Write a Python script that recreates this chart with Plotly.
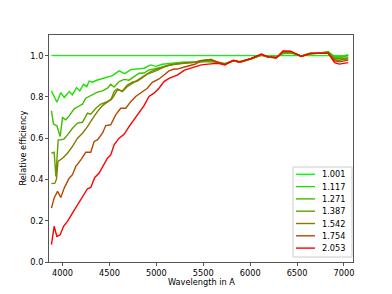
import plotly.graph_objects as go

airmass_labels = ["1.001", "1.117", "1.271", "1.387", "1.542", "1.754", "2.053"]
colors = ["#00ff00", "#1ce300", "#42bd00", "#5ea100", "#837c00", "#b74800", "#ff0000"]

# common red-end wavelengths
wl_red = [5300, 5410, 5480, 5580, 5660, 5730, 5820, 5890, 6010, 6120, 6190, 6280,
          6350, 6430, 6480, 6545, 6640, 6740, 6830, 6900, 6950, 7045]

wl_1001 = [3882, 7045]
eff_1001 = [1.0, 1.0]

wl_1117 = [3882, 3940, 3982, 4018, 4071, 4106, 4149, 4184, 4223, 4259, 4284, 4319, 4372,
           4426, 4479, 4532, 4603, 4663, 4727, 4798, 4869, 4940, 4993, 5064, 5153, 5223]
eff_1117 = [0.829, 0.774, 0.821, 0.797, 0.826, 0.810, 0.845, 0.829, 0.861, 0.850, 0.877,
            0.871, 0.882, 0.890, 0.895, 0.903, 0.926, 0.913, 0.932, 0.934, 0.939, 0.955,
            0.948, 0.958, 0.963, 0.968]
eff_1117_red = [0.970, 0.968, 0.972, 0.970, 0.968, 0.962, 0.975, 0.972, 0.985, 1.002, 0.995,
                0.993, 1.010, 1.012, 1.008, 0.998, 1.010, 1.012, 1.020, 0.995, 0.995, 1.005]

wl_1271 = [3882, 3904, 3940, 3975, 4000, 4035, 4071, 4124, 4177, 4213, 4248, 4284, 4330,
           4372, 4426, 4479, 4514, 4550, 4603, 4656, 4709, 4762, 4816, 4869, 4922, 4975,
           5046, 5117, 5188]
eff_1271 = [0.732, 0.668, 0.660, 0.608, 0.700, 0.689, 0.708, 0.742, 0.756, 0.765, 0.794,
            0.802, 0.813, 0.823, 0.829, 0.842, 0.861, 0.848, 0.874, 0.885, 0.881, 0.898,
            0.915, 0.916, 0.931, 0.935, 0.942, 0.952, 0.958]
eff_1271_red = [0.965, 0.967, 0.970, 0.972, 0.966, 0.960, 0.975, 0.970, 0.985, 1.003, 0.994,
                0.992, 1.012, 1.015, 1.008, 0.997, 1.010, 1.012, 1.018, 0.990, 0.990, 1.000]

wl_1387 = [3882, 3911, 3929, 3954, 3982, 4018, 4053, 4106, 4160, 4213, 4266, 4301, 4355,
           4408, 4461, 4514, 4550, 4585, 4638, 4691, 4745, 4798, 4869, 4940, 5011, 5082,
           5153, 5223]
eff_1387 = [0.527, 0.532, 0.415, 0.592, 0.592, 0.597, 0.616, 0.648, 0.673, 0.677, 0.721,
            0.716, 0.745, 0.765, 0.774, 0.785, 0.826, 0.839, 0.826, 0.850, 0.866, 0.882,
            0.903, 0.923, 0.935, 0.947, 0.955, 0.961]
eff_1387_red = [0.965, 0.968, 0.975, 0.978, 0.965, 0.958, 0.975, 0.968, 0.984, 1.004, 0.993,
                0.990, 1.015, 1.017, 1.010, 0.997, 1.010, 1.012, 1.015, 0.985, 0.985, 0.990]

wl_1542 = [3882, 3918, 3935, 3952, 4000, 4053, 4106, 4160, 4213, 4266, 4319, 4372, 4426,
           4479, 4532, 4585, 4638, 4691, 4745, 4798, 4851, 4904, 4975, 5046, 5117, 5188]
eff_1542 = [0.380, 0.382, 0.400, 0.487, 0.503, 0.527, 0.560, 0.600, 0.624, 0.656, 0.694,
            0.729, 0.758, 0.777, 0.794, 0.834, 0.829, 0.858, 0.871, 0.877, 0.894, 0.910,
            0.923, 0.939, 0.952, 0.958]
eff_1542_red = [0.963, 0.968, 0.977, 0.982, 0.966, 0.958, 0.976, 0.968, 0.985, 1.005, 0.993,
                0.990, 1.018, 1.018, 1.010, 0.997, 1.010, 1.012, 1.014, 0.980, 0.978, 0.985]

wl_1754 = [3882, 3911, 3947, 3982, 4018, 4071, 4106, 4142, 4195, 4248, 4301, 4337, 4372,
           4426, 4461, 4514, 4567, 4620, 4674, 4727, 4780, 4833, 4904, 4957, 5028, 5082,
           5135, 5188, 5223]
eff_1754 = [0.261, 0.310, 0.342, 0.313, 0.358, 0.406, 0.423, 0.463, 0.495, 0.532, 0.532,
            0.584, 0.592, 0.624, 0.661, 0.665, 0.713, 0.745, 0.745, 0.777, 0.802, 0.818,
            0.842, 0.871, 0.887, 0.906, 0.926, 0.935, 0.935]
eff_1754_red = [0.945, 0.958, 0.975, 0.982, 0.968, 0.957, 0.976, 0.968, 0.985, 1.006, 0.993,
                0.990, 1.020, 1.020, 1.010, 0.997, 1.010, 1.012, 1.012, 0.975, 0.970, 0.978]

wl_2053 = [3882, 3911, 3940, 3975, 4011, 4053, 4106, 4160, 4213, 4266, 4301, 4344, 4390,
           4426, 4479, 4514, 4550, 4603, 4656, 4709, 4762, 4816, 4869, 4922, 4975, 5028,
           5082, 5135, 5188, 5223]
eff_2053 = [0.084, 0.173, 0.124, 0.132, 0.173, 0.197, 0.237, 0.277, 0.318, 0.355, 0.361,
            0.410, 0.431, 0.463, 0.503, 0.519, 0.568, 0.600, 0.619, 0.656, 0.689, 0.721,
            0.758, 0.802, 0.818, 0.842, 0.874, 0.890, 0.898, 0.906]
eff_2053_red = [0.930, 0.944, 0.955, 0.960, 0.963, 0.955, 0.978, 0.970, 0.987, 1.008, 0.995,
                0.990, 1.023, 1.022, 1.010, 0.996, 1.010, 1.012, 1.012, 0.966, 0.959, 0.966]

series = [
    (wl_1001, eff_1001),
    (wl_1117 + wl_red, eff_1117 + eff_1117_red),
    (wl_1271 + wl_red, eff_1271 + eff_1271_red),
    (wl_1387 + wl_red, eff_1387 + eff_1387_red),
    (wl_1542 + wl_red, eff_1542 + eff_1542_red),
    (wl_1754 + wl_red, eff_1754 + eff_1754_red),
    (wl_2053 + wl_red, eff_2053 + eff_2053_red),
]

FONT = "DejaVu Sans"
FS = 8.2

fig = go.Figure()
for (x, y), lab, col in zip(series, airmass_labels, colors):
    fig.add_trace(go.Scatter(x=x, y=y, mode="lines", name=lab,
                             line=dict(color=col, width=1.4), showlegend=False))

# page offset of the plotly div (body margin)
OFF = 8
# target plot area in window pixels
L, R, T, B = 49, 353, 35, 262
def px2x(px): return (px - L) / (R - L)
def py2y(py): return (B - py) / (B - T)

shapes = [dict(type="rect", xref="paper", yref="paper",
               x0=px2x(293), x1=px2x(352), y0=py2y(257), y1=py2y(167),
               line=dict(color="#cccccc", width=1), fillcolor="rgba(255,255,255,0.8)",
               layer="above")]
annotations = []
for i, (lab, col) in enumerate(zip(airmass_labels, colors)):
    py = 174.3 + i * 12.3
    shapes.append(dict(type="line", xref="paper", yref="paper",
                       x0=px2x(296), x1=px2x(315), y0=py2y(py), y1=py2y(py),
                       line=dict(color=col, width=1.4), layer="above"))
    annotations.append(dict(xref="paper", yref="paper", x=px2x(320), y=py2y(py),
                            text=lab, showarrow=False, xanchor="left", yanchor="middle",
                            font=dict(family=FONT, size=FS, color="black")))

annotations.append(dict(xref="paper", yref="paper", x=0.5, y=py2y(282),
                        text="Wavelength in A", showarrow=False, xanchor="center",
                        yanchor="middle", font=dict(family=FONT, size=FS, color="black")))
annotations.append(dict(xref="paper", yref="paper", x=px2x(22), y=0.5,
                        text="Relative efficiency", showarrow=False, textangle=-90,
                        xanchor="center", yanchor="middle",
                        font=dict(family=FONT, size=FS, color="black")))

W, H = 392, 294
fig.update_layout(
    width=W, height=H,
    margin=dict(l=L - OFF, r=W + OFF - R, t=T - OFF, b=H + OFF - B),
    paper_bgcolor="white", plot_bgcolor="white",
    font=dict(family=FONT, size=FS, color="black"),
    shapes=shapes, annotations=annotations,
    xaxis=dict(range=[3856, 7096], tickvals=[4000, 4500, 5000, 5500, 6000, 6500, 7000],
               showgrid=False, zeroline=False, showline=True, mirror=True,
               linecolor="#555555", linewidth=1, ticks="outside", ticklen=3,
               tickcolor="#555555", tickfont=dict(family=FONT, size=FS, color="black")),
    yaxis=dict(range=[0, 1.1], tickvals=[0, 0.2, 0.4, 0.6, 0.8, 1.0],
               ticktext=["0.0", "0.2", "0.4", "0.6", "0.8", "1.0"],
               showgrid=False, zeroline=False, showline=True, mirror=True,
               linecolor="#555555", linewidth=1, ticks="outside", ticklen=3,
               tickcolor="#555555", tickfont=dict(family=FONT, size=FS, color="black")),
)

fig.write_html("out.html")
